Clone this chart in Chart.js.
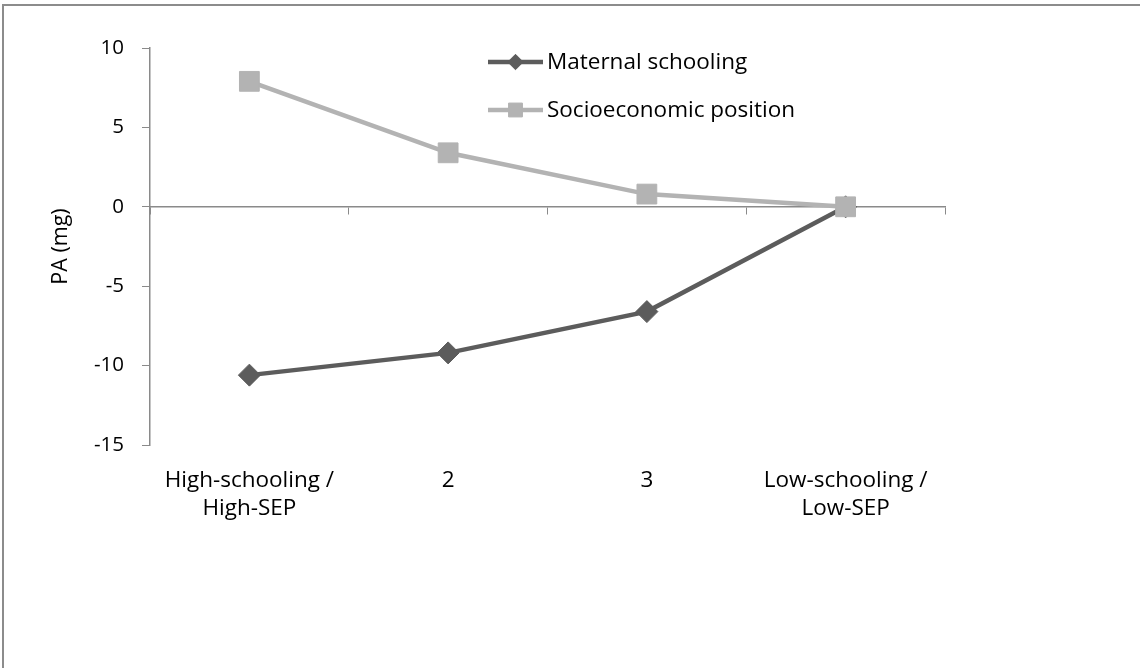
<!DOCTYPE html>
<html lang="en">
<head>
  <meta charset="UTF-8">
  <title>PA by maternal schooling and SEP</title>
  <script src="https://cdn.jsdelivr.net/npm/chart.js"></script>
  <style>
    html, body { margin: 0; padding: 0; background: #fff; overflow: hidden; }
    #wrap { position: relative; width: 1140px; height: 668px; }
    #frame { position: absolute; left: 2px; top: 4px; width: 1200px; height: 700px;
             border-top: 2px solid #8c8c8c; border-left: 2px solid #8c8c8c; }
    canvas { position: absolute; left: 0; top: 0; }
  </style>
</head>
<body>
  <div id="wrap">
    <div id="frame"></div>
    <canvas id="paChart" width="1140" height="668"></canvas>
  </div>

  <script>
    // values
    const categories = [['High-schooling /', 'High-SEP'], '2', '3', ['Low-schooling /', 'Low-SEP']];
    const maternalSchooling = [-10.6, -9.2, -6.6, 0];
    const socioeconomicPosition = [7.9, 3.4, 0.8, 0];
    const yTicks = [10, 5, 0, -5, -10, -15];

    const fontFamily = '"Open Sans", Lato, sans-serif';
    const axisGray = '#8a8a8a';

    // legend drawn inside the plot, line + marker like the original
    const insideLegend = {
      id: 'insideLegend',
      afterDraw(chart) {
        const ctx = chart.ctx;
        const x0 = 488, x1 = 543, tx = 547;
        const rows = [62, 110];
        ctx.save();
        chart.data.datasets.forEach((ds, i) => {
          const y = rows[i];
          ctx.strokeStyle = ds.borderColor;
          ctx.lineWidth = ds.borderWidth;
          ctx.beginPath();
          ctx.moveTo(x0, y);
          ctx.lineTo(x1, y);
          ctx.stroke();
          ctx.fillStyle = ds.backgroundColor;
          ctx.strokeStyle = ds.borderColor;
          ctx.lineWidth = 1;
          Chart.helpers.drawPoint(ctx, {
            pointStyle: ds.pointStyle,
            radius: ds.pointRadius * 0.7,
            borderWidth: 1
          }, (x0 + x1) / 2, y);
          ctx.fillStyle = '#000';
          ctx.font = '22.5px ' + fontFamily;
          ctx.textBaseline = 'middle';
          ctx.textAlign = 'left';
          ctx.fillText(ds.label, tx, y + 1);
        });
        ctx.restore();
      }
    };

    new Chart(document.getElementById('paChart'), {
      type: 'line',
      data: {
        labels: categories,
        datasets: [{
          label: 'Maternal schooling',
          data: maternalSchooling,
          borderColor: '#5c5c5c',
          backgroundColor: '#5c5c5c',
          borderWidth: 4.5,
          pointStyle: 'rectRot',
          pointRadius: 11,
          pointHoverRadius: 11,
          pointBorderWidth: 1,
          tension: 0,
          order: 1
        }, {
          label: 'Socioeconomic position',
          data: socioeconomicPosition,
          borderColor: '#b3b3b3',
          backgroundColor: '#b3b3b3',
          borderWidth: 4.5,
          pointStyle: 'rect',
          pointRadius: 14,
          pointHoverRadius: 14,
          pointBorderWidth: 1,
          tension: 0,
          order: 0
        }]
      },
      options: {
        responsive: false,
        animation: false,
        layout: { padding: { left: 0, top: 48, right: 195, bottom: 0 } },
        plugins: {
          legend: { display: false },
          tooltip: { enabled: false }
        },
        scales: {
          x: {
            type: 'category',
            position: { y: 0 },
            offset: true,
            ticks: { display: false },
            grid: { display: true, offset: true, drawOnChartArea: false, drawTicks: true, tickLength: 7, color: axisGray, lineWidth: 1 },
            border: { display: true, color: axisGray, width: 1.5 }
          },
          x2: {
            type: 'category',
            position: 'bottom',
            offset: true,
            grid: { display: false },
            border: { display: false },
            ticks: {
              color: '#000',
              padding: 14,
              maxRotation: 0,
              autoSkip: false,
              font: { family: fontFamily, size: 22.5, lineHeight: 1.24 }
            },
            afterFit(scale) { scale.height = 223; }
          },
          y: {
            min: -15,
            max: 10,
            afterBuildTicks(scale) { scale.ticks = yTicks.map(v => ({ value: v })); },
            ticks: {
              color: '#000',
              padding: 18,
              font: { family: fontFamily, size: 20.5 }
            },
            grid: { display: true, drawOnChartArea: false, drawTicks: true, tickLength: 8, color: axisGray },
            border: { display: true, color: axisGray, width: 1.5 },
            title: {
              display: true,
              text: 'PA (mg)',
              color: '#000',
              font: { family: fontFamily, size: 21.5 },
              padding: { top: 48 }
            },
            afterFit(scale) { scale.width = 150; }
          }
        }
      },
      plugins: [insideLegend]
    });
  </script>
</body>
</html>
